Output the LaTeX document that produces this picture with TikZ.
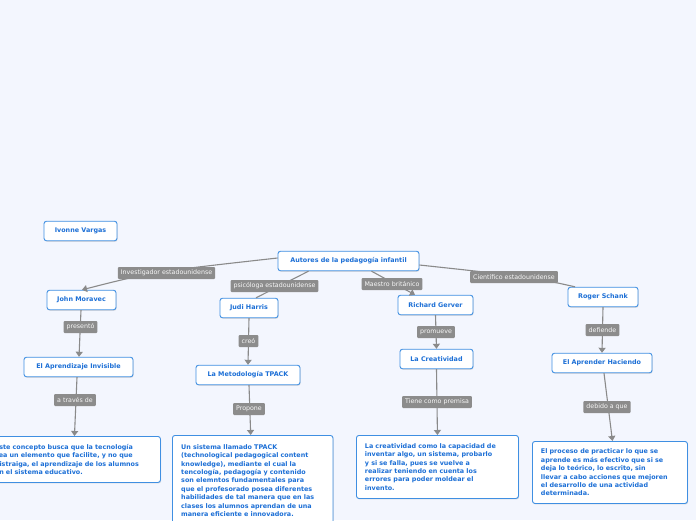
\documentclass[tikz,border=0pt]{standalone}
\usepackage{fontspec}
\setmainfont{DejaVu Sans}
\usetikzlibrary{arrows.meta,shadows}
\definecolor{bg}{HTML}{F3F6FE}
\definecolor{nodeblue}{HTML}{1C6FD6}
\definecolor{borderblue}{HTML}{3F8FE2}
\definecolor{lblgray}{HTML}{8C8C8C}
\definecolor{linegray}{HTML}{8A8A8A}
\tikzset{
  topic/.style={draw=borderblue, line width=0.9pt, fill=white, rounded corners=2.5pt,
    text=nodeblue, font=\fontsize{6.4}{8.4}\selectfont\bfseries, minimum height=19.5pt,
    inner xsep=4pt, drop shadow={shadow xshift=0.6pt, shadow yshift=-1pt, opacity=0.25}},
  para/.style={topic, anchor=north west, align=left, inner xsep=8.5pt, inner ysep=5pt},
  lbl/.style={fill=lblgray, rounded corners=1pt, text=white!94!gray,
    font=\fontsize{6.3}{7}\selectfont, minimum height=12pt, inner xsep=3pt, inner ysep=0pt},
  conn/.style={draw=linegray, line width=1.1pt},
  arr/.style={conn, -{Triangle[width=7pt,length=5pt]}},
}
\begin{document}
\begin{tikzpicture}[x=1pt,y=-1pt]
\fill[bg] (0,0) rectangle (696,520);
\useasboundingbox (0,0) rectangle (696,520);
\begin{scope}
\clip (0,0) rectangle (696,520);
% topic nodes
\node[topic, minimum width=73pt] (iv) at (80.5,231) {Ivonne Vargas};
\node[topic, minimum width=141pt] (aut) at (348.5,261) {Autores de la pedagogía infantil};
\node[topic, minimum width=69pt] (mor) at (81.5,300) {John Moravec};
\node[topic, minimum width=58pt] (jud) at (249,308) {Judi Harris};
\node[topic, minimum width=75pt] (ger) at (435.5,305) {Richard Gerver};
\node[topic, minimum width=70pt] (sch) at (603,297) {Roger Schank};
\node[topic, minimum width=109pt] (ai) at (78.5,367) {El Aprendizaje Invisible};
\node[topic, minimum width=104pt] (tpk) at (248,375) {La Metodología TPACK};
\node[topic, minimum width=73pt] (cre) at (436.5,359) {La Creatividad};
\node[topic, minimum width=100pt] (ah) at (602,363) {El Aprender Haciendo};
% paragraph nodes
\node[para, text width=157pt, minimum width=174pt, minimum height=46pt] (tx1) at (-14,436)
 {Este concepto busca que la tecnología\\ sea un elemento que facilite, y no que\\ distraiga, el aprendizaje de los alumnos\\ en el sistema educativo.};
\node[para, text width=143pt, minimum width=160.5pt, minimum height=90pt] (tx2) at (172,435)
 {Un sistema llamado TPACK\\ (technological pedagogical content\\ knowledge), mediante el cual la\\ tencología, pedagogía y contenido\\ son elemntos fundamentales para\\ que el profesorado posea diferentes\\ habilidades de tal manera que en las\\ clases los alumnos aprendan de una\\ manera eficiente e innovadora.};
\node[para, text width=145pt, minimum width=162pt, minimum height=63pt] (tx3) at (356,435)
 {La creatividad como la capacidad de\\ inventar algo, un sistema, probarlo\\ y si se falla, pues se vuelve a\\ realizar teniendo en cuenta los\\ errores para poder moldear el\\ invento.};
\node[para, text width=138pt, minimum width=155pt, minimum height=62pt] (tx4) at (532,441)
 {El proceso de practicar lo que se\\ aprende es más efectivo que si se\\ deja lo teórico, lo escrito, sin\\ llevar a cabo acciones que mejoren\\ el desarrollo de una actividad\\ determinada.};
% connectors
\draw[arr] ([yshift=3pt]aut.west) .. controls (152,272) .. ([xshift=0.5pt]mor.north);
\draw[conn] ([xshift=-40pt]aut.south) -- ([xshift=7pt]jud.north);
\draw[arr] ([xshift=23pt]aut.south) -- ([xshift=-20.5pt]ger.north);
\draw[conn] ([yshift=-4pt]aut.east) .. controls (531,277) .. ([xshift=-28pt]sch.north);
\draw[arr] ([xshift=-0.5pt]mor.south) -- ([xshift=0.5pt]ai.north);
\draw[arr] ([xshift=-1.5pt]ai.south) -- ([xshift=1pt]tx1.north);
\draw[arr] (jud.south) -- (tpk.north);
\draw[arr] ([xshift=1pt]tpk.south) -- ([xshift=-2pt]tx2.north);
\draw[arr] (ger.south) -- (cre.north);
\draw[arr] (cre.south) -- (tx3.north);
\draw[arr] (sch.south) -- (ah.north);
\draw[arr] ([xshift=2pt]ah.south) -- ([xshift=2.5pt]tx4.north);
% labels
\node[lbl] (l1) at (166.5,273) {Investigador estadounidense};
\node[lbl] (l2) at (274.5,286) {psicóloga estadounidense};
\node[lbl] (l3) at (392,284) {Maestro británico};
\node[lbl] (l4) at (514,277) {Científico estadounidense};
\node[lbl] (l5) at (80.5,327) {presentó};
\node[lbl] (l6) at (248.5,341) {creó};
\node[lbl] (l7) at (436,332) {promueve};
\node[lbl] (l8) at (602.5,330) {defiende};
\node[lbl] (l9) at (75,400) {a través de};
\node[lbl] (l10) at (249,409) {Propone};
\node[lbl] (l11) at (437,402) {Tiene como premisa};
\node[lbl] (l12) at (607,407) {debido a que};
\end{scope}
\end{tikzpicture}
\end{document}
